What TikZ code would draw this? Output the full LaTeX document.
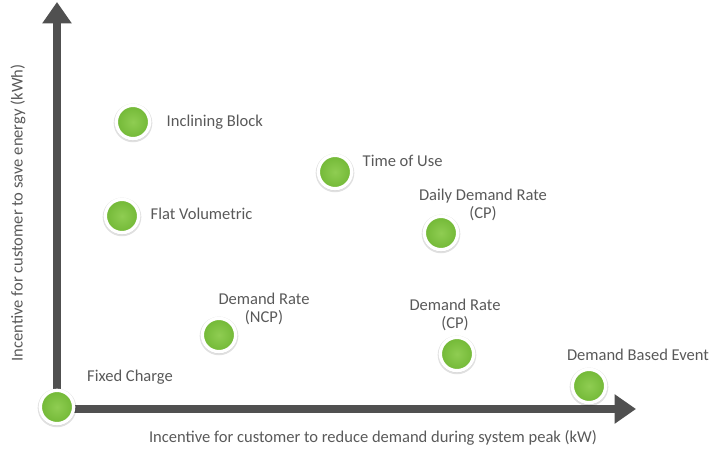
\documentclass[tikz,border=0pt]{standalone}
\usepackage{fontspec}
\setmainfont{Carlito}
\usetikzlibrary{arrows.meta,shadows}

\definecolor{axisgray}{HTML}{505050}
\definecolor{textgray}{HTML}{595959}
\definecolor{bubgreen}{HTML}{72B836}
\definecolor{bublight}{HTML}{8FCD52}

\begin{document}
\begin{tikzpicture}[x=0.75pt,y=-0.75pt,
    axis/.style={line width=6pt,draw=axisgray,-{Triangle[length=16pt,width=21pt]}},
    bubble/.style={circle,draw=white,line width=2.5pt,minimum size=25pt,inner sep=0pt,
        inner color=bublight,outer color=bubgreen,
        general shadow={fill=black,opacity=0.12,shadow scale=1.16,shadow yshift=-0.6pt},
        general shadow={fill=black,opacity=0.12,shadow scale=1.08,shadow yshift=-0.4pt}},
    tag/.style={text=textgray,font=\fontsize{12.4}{13.6}\selectfont,align=center}]

\useasboundingbox (0,0) rectangle (709,449);

% axes
\coordinate (o) at (57,409);
\coordinate (ytip) at (57,2);
\coordinate (xtip) at (636,409);
\draw[axis] (o) -- (ytip);
\draw[axis] (o) -- (xtip);

\node[tag,rotate=90] (ylab) at (18,213) {Incentive for customer to save energy (kWh)};
\node[tag] (xlab) at (373,438) {Incentive for customer to reduce demand during system peak (kW)};

% tariffs
\node[bubble] (fixed) at (57,407) {};
\node[tag] (fixedlab) at (130,377) {Fixed Charge};

\node[bubble] (incl) at (133,122) {};
\node[tag,anchor=west] (incllab) at (162,122) {Inclining Block};

\node[bubble] (flat) at (122,216) {};
\node[tag,anchor=west] (flatlab) at (146,214) {Flat Volumetric};

\node[bubble] (tou) at (335,172) {};
\node[tag,anchor=west] (toulab) at (358,161) {Time of Use};

\node[bubble] (daily) at (441,233) {};
\node[tag] (dailylab) at (483,205) {Daily Demand Rate\\(CP)};

\node[bubble] (ncp) at (219,335) {};
\node[tag] (ncplab) at (264,309) {Demand Rate\\(NCP)};

\node[bubble] (cp) at (457,354) {};
\node[tag] (cplab) at (455,315) {Demand Rate\\(CP)};

\node[bubble] (event) at (589,386) {};
\node[tag] (eventlab) at (638,355) {Demand Based Event};
\end{tikzpicture}
\end{document}
